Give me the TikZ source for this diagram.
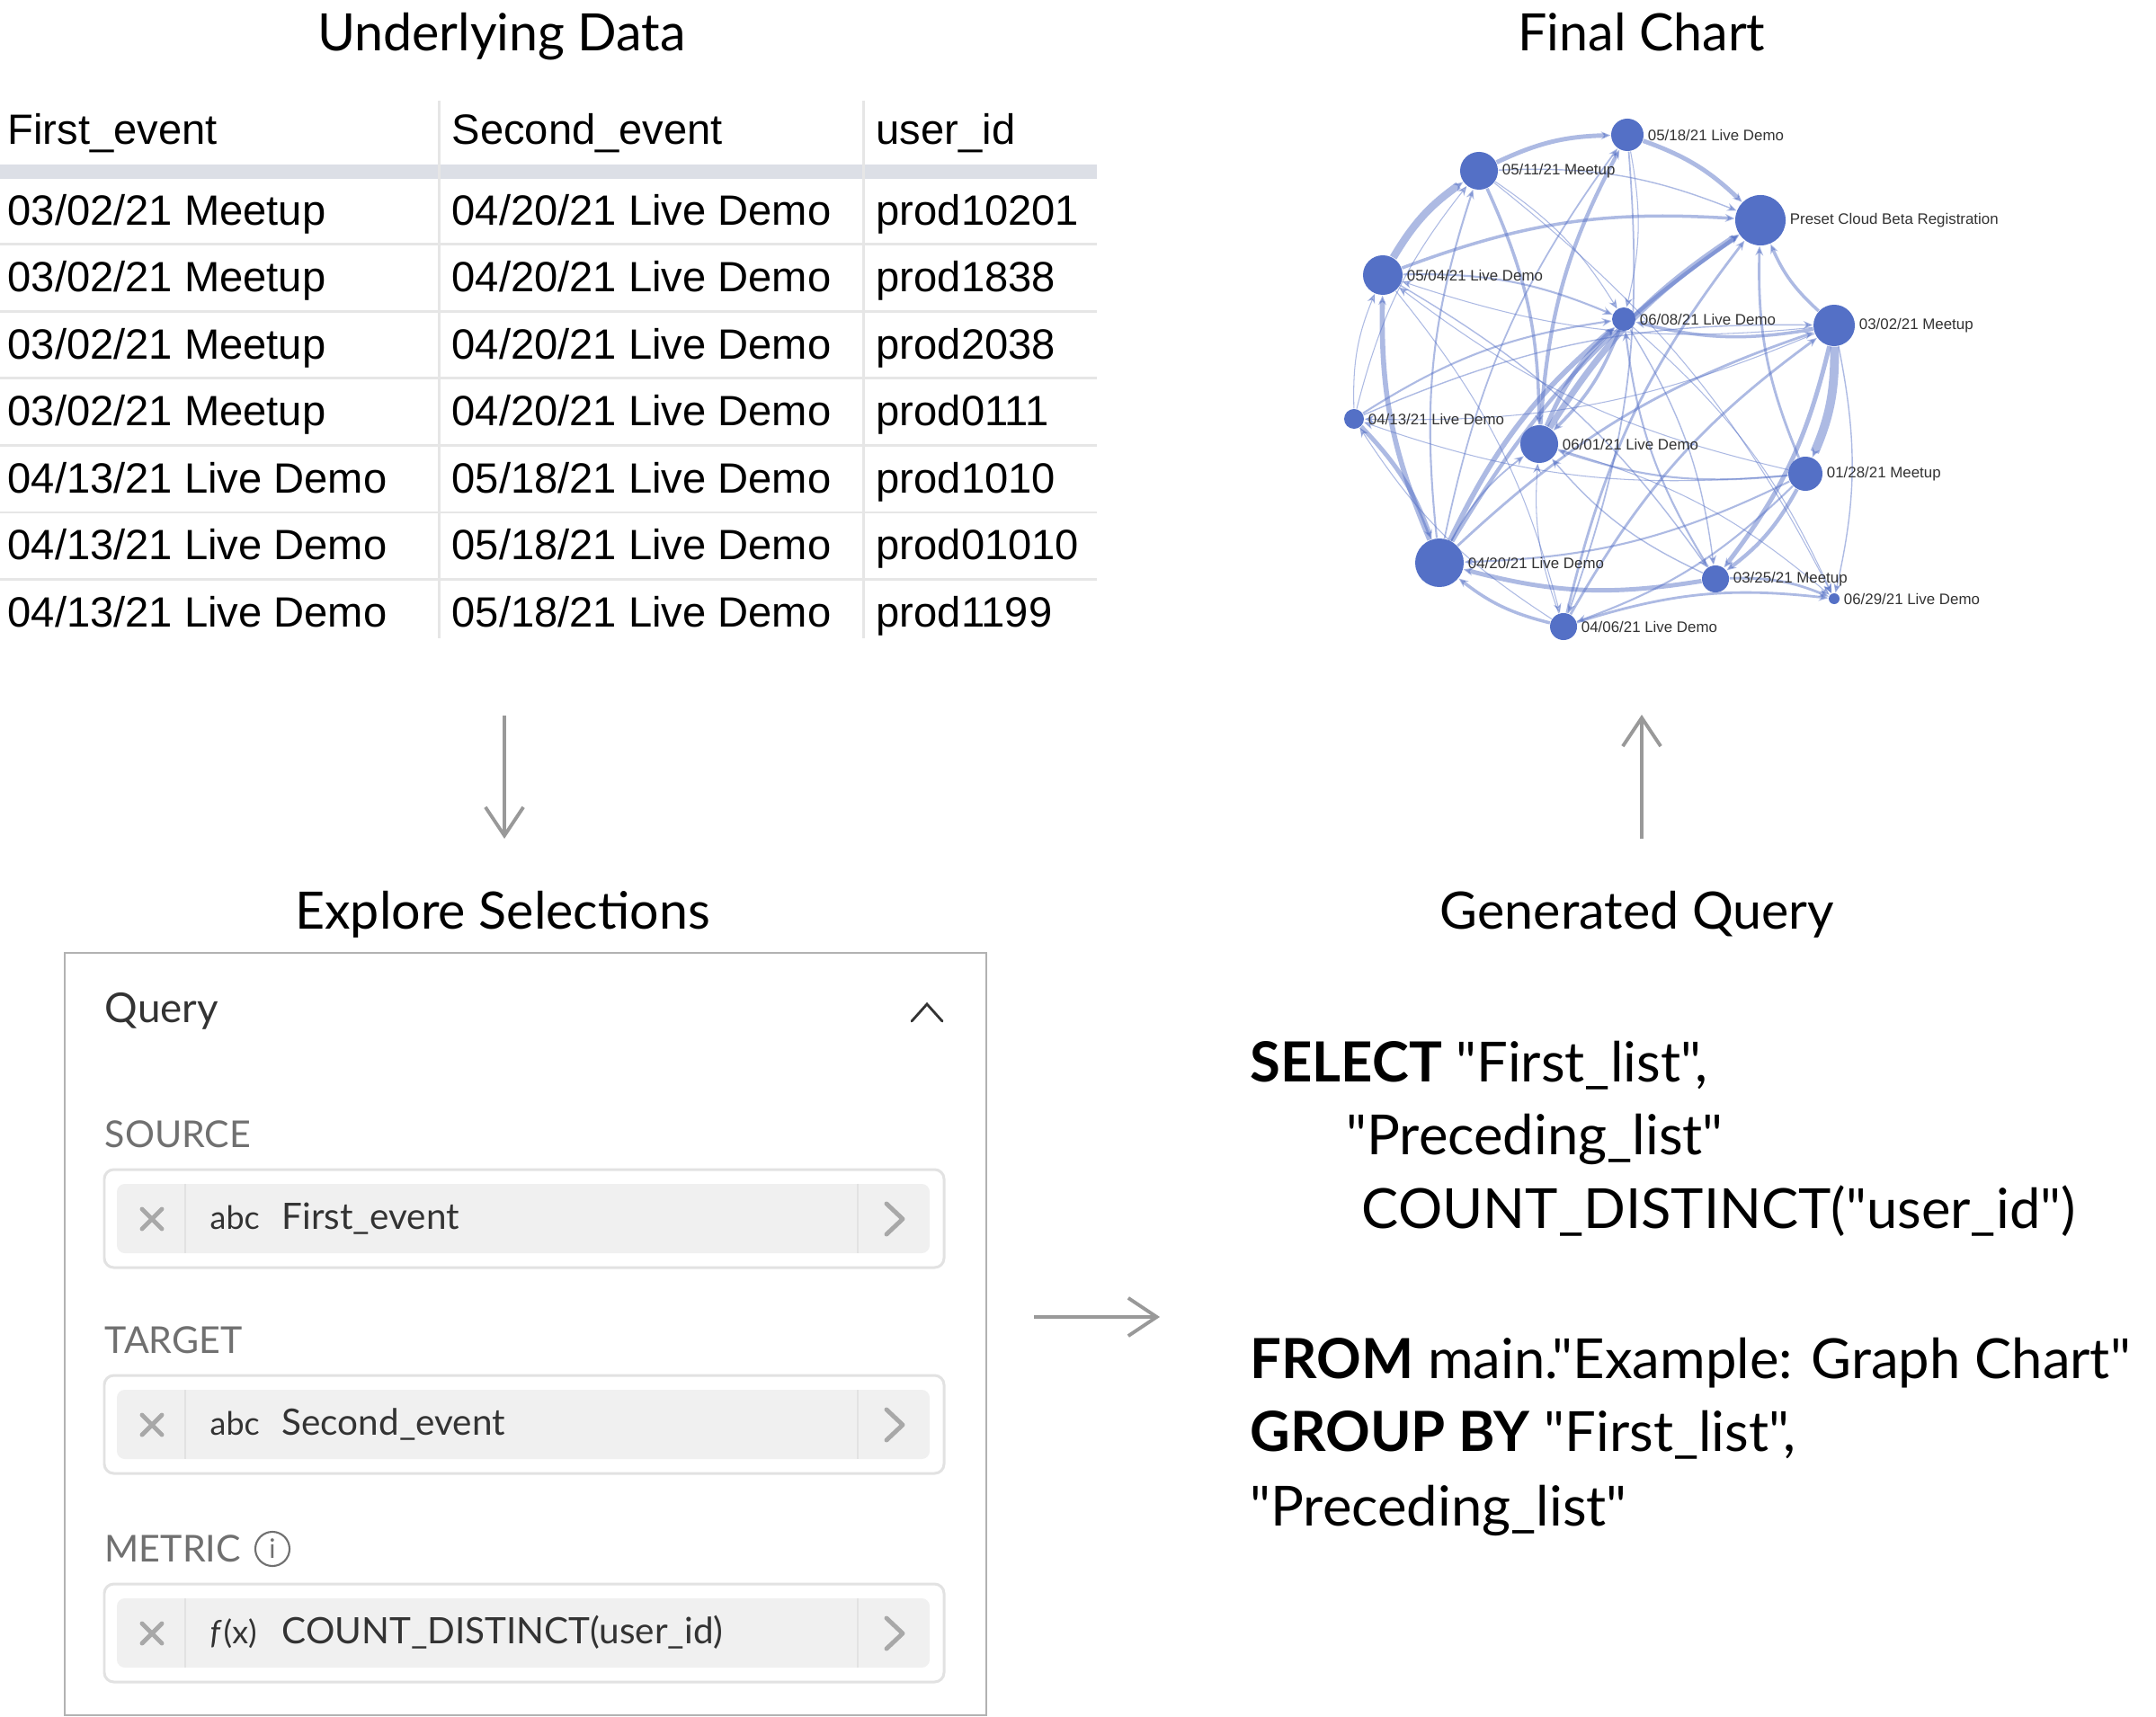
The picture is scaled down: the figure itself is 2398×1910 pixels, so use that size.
\documentclass[tikz,border=0pt]{standalone}
\usepackage{fontspec}
\setmainfont{Lato}[Ligatures=TeXOff]
\newfontfamily\arialfont{Liberation Sans}
\usetikzlibrary{arrows.meta}
\usetikzlibrary{backgrounds}

\definecolor{nodeblue}{HTML}{5470C6}
\definecolor{flowgray}{HTML}{999999}
\definecolor{bandgray}{HTML}{DCDFE6}
\definecolor{rulegray}{HTML}{E6E6E6}
\definecolor{fieldfill}{HTML}{F0F0F0}
\definecolor{fieldline}{HTML}{E2E2E2}
\definecolor{labelgray}{HTML}{707070}
\definecolor{icongray}{HTML}{A8A8A8}
\definecolor{darktext}{HTML}{333333}

\begin{document}
\begin{tikzpicture}[x=0.01cm, y=-0.01cm,
  heading/.style={font=\fontsize{16.3}{19}\selectfont, anchor=base, inner sep=0pt},
  cell/.style={font=\arialfont\fontsize{13.4}{16}\selectfont, anchor=west, inner sep=0pt, text height=1.5ex, text depth=.25ex},
  flow/.style={flowgray, line width=1.1pt, -{Straight Barb[length=9pt,width=12pt]}},
  gnode/.style={circle, fill=nodeblue, inner sep=0pt, minimum size=#1},
  glabel/.style={font=\arialfont\fontsize{4.8}{5}\selectfont, text=darktext, inner sep=1pt},
  link/.style={nodeblue, opacity=.48, line width=#1pt, bend left=12, -{Stealth[length=3pt,width=2.5pt]}},
  sqlline/.style={font=\fontsize{17.5}{21}\selectfont, anchor=base west, inner sep=0pt},
  seclabel/.style={font=\fontsize{11.7}{14}\selectfont, text=labelgray, anchor=base west, inner sep=0pt},
  fieldtext/.style={font=\fontsize{11.5}{14}\selectfont, text=darktext, anchor=west, inner sep=0pt, text height=1.5ex, text depth=.25ex},
  icon/.style={icongray, line width=1.4pt, line cap=round, line join=round}]

\useasboundingbox (0,0) rectangle (2398,1910);
\begin{scope}[on background layer]
  \fill[white] (0,0) rectangle (2398,1910);
\end{scope}

% headings
\node[heading] (hdata)  at (558,57)   {Underlying Data};
\node[heading] (hchart) at (1826,57)  {Final Chart};
\node[heading] (hexpl)  at (559,1033) {Explore Selections};
\node[heading] (hquery) at (1821,1033) {Generated Query};

% table
\fill[bandgray] (0,183) rectangle (1220,199);
\foreach \y in {272,346.5,421,495.5,570,644.5}
  \draw[rulegray, line width=0.85pt] (0,\y) -- (1220,\y);
\draw[rulegray, line width=0.85pt] (488,112) -- (488,710) (960,112) -- (960,710);

\node[cell] (h1) at (8,149)   {First\_event};
\node[cell] (h2) at (502,149) {Second\_event};
\node[cell] (h3) at (974,149) {user\_id};

\node[cell] (a1) at (8,239)   {03/02/21 Meetup};
\node[cell] (b1) at (502,239) {04/20/21 Live Demo};
\node[cell] (c1) at (974,239) {prod10201};
\node[cell] (a2) at (8,313.5)   {03/02/21 Meetup};
\node[cell] (b2) at (502,313.5) {04/20/21 Live Demo};
\node[cell] (c2) at (974,313.5) {prod1838};
\node[cell] (a3) at (8,388)   {03/02/21 Meetup};
\node[cell] (b3) at (502,388) {04/20/21 Live Demo};
\node[cell] (c3) at (974,388) {prod2038};
\node[cell] (a4) at (8,462.5)   {03/02/21 Meetup};
\node[cell] (b4) at (502,462.5) {04/20/21 Live Demo};
\node[cell] (c4) at (974,462.5) {prod0111};
\node[cell] (a5) at (8,537)   {04/13/21 Live Demo};
\node[cell] (b5) at (502,537) {05/18/21 Live Demo};
\node[cell] (c5) at (974,537) {prod1010};
\node[cell] (a6) at (8,611.5)   {04/13/21 Live Demo};
\node[cell] (b6) at (502,611.5) {05/18/21 Live Demo};
\node[cell] (c6) at (974,611.5) {prod01010};
\node[cell] (a7) at (8,686)   {04/13/21 Live Demo};
\node[cell] (b7) at (502,686) {05/18/21 Live Demo};
\node[cell] (c7) at (974,686) {prod1199};

% flow arrows
\coordinate (d1) at (561,796);
\coordinate (d2) at (561,933);
\coordinate (u1) at (1826,933);
\coordinate (u2) at (1826,795);
\coordinate (r1) at (1150,1465);
\coordinate (r2) at (1290,1465);
\draw[flow] (d1) -- (d2);
\draw[flow] (u1) -- (u2);
\draw[flow] (r1) -- (r2);

% graph chart
\node[gnode=0.36cm, label={[glabel]right:05/18/21 Live Demo}] (n0518) at (1810,150) {};
\node[gnode=0.42cm, label={[glabel]right:05/11/21 Meetup}] (n0511) at (1645,190) {};
\node[gnode=0.56cm, label={[glabel]right:Preset Cloud Beta Registration}] (preset) at (1958,245) {};
\node[gnode=0.44cm, label={[glabel]right:05/04/21 Live Demo}] (n0504) at (1538,306) {};
\node[gnode=0.26cm, label={[glabel]right:06/08/21 Live Demo}] (n0608) at (1806,355) {};
\node[gnode=0.46cm, label={[glabel]right:03/02/21 Meetup}] (n0302) at (2040,362) {};
\node[gnode=0.22cm, label={[glabel]right:04/13/21 Live Demo}] (n0413) at (1506,466) {};
\node[gnode=0.42cm, label={[glabel]right:06/01/21 Live Demo}] (n0601) at (1712,494) {};
\node[gnode=0.38cm, label={[glabel]right:01/28/21 Meetup}] (n0128) at (2008,527) {};
\node[gnode=0.54cm, label={[glabel]right:04/20/21 Live Demo}] (n0420) at (1601,626) {};
\node[gnode=0.30cm, label={[glabel]right:03/25/21 Meetup}] (n0325) at (1908,644) {};
\node[gnode=0.12cm, label={[glabel]right:06/29/21 Live Demo}] (n0629) at (2040,666) {};
\node[gnode=0.30cm, label={[glabel]right:04/06/21 Live Demo}] (n0406) at (1739,697) {};

\begin{scope}[on background layer]
\foreach \s/\t/\w in {n0504/n0511/2.4, n0511/n0518/1.4, n0518/preset/1.4, n0420/n0608/1.6,
    n0601/n0608/1.4, n0608/n0601/1.0, n0601/preset/2.0, n0420/preset/1.2, n0302/n0128/2.8,
    n0302/n0325/1.4, n0128/n0325/1.2, n0420/n0504/1.6, n0413/n0420/1.4, n0325/n0420/1.4,
    n0406/n0420/1.0, n0504/preset/1.0, n0511/n0601/1.0, n0601/n0518/1.2, n0302/n0608/1.0,
    n0302/preset/1.0, n0128/preset/0.8, n0406/n0302/0.8, n0406/n0629/0.8, n0325/n0629/0.8,
    n0420/n0302/0.8, n0128/n0420/0.6, n0325/n0608/0.6, n0406/preset/0.8, n0420/n0511/0.6,
    n0413/n0608/0.6, n0413/n0302/0.4, n0128/n0601/0.6, n0325/n0601/0.4, n0504/n0608/0.6,
    n0504/n0325/0.4, n0504/n0406/0.3, n0511/n0629/0.3, n0511/n0608/0.3, n0511/preset/0.4,
    n0518/n0608/0.3, n0518/n0406/0.5, n0302/n0629/0.4, n0302/n0504/0.3, n0302/n0413/0.3,
    n0128/n0504/0.3, n0128/n0413/0.3, n0406/n0413/0.3, n0413/n0504/0.3, n0420/n0601/0.5,
    n0406/n0601/0.3, n0608/n0629/0.3, n0128/n0406/0.6, n0413/n0511/0.3, n0420/n0518/0.5,
    n0608/n0325/0.4, n0601/n0629/0.3}
  \draw[link=\w] (\s) to (\t);
\end{scope}

% query panel
\draw[gray!60, line width=0.6pt] (72,1060) rectangle (1097,1908);
\node[anchor=base west, inner sep=0pt, font=\fontsize{13}{16}\selectfont, text=darktext] (qtitle) at (116,1137) {Query};
\draw[darktext, line width=0.8pt, line cap=round] (1014,1136) -- (1031,1117) -- (1048,1136);

\foreach \y/\sec/\kind/\txt/\nm in {1301/SOURCE/abc/First\_event/src,
    1530/TARGET/abc/Second\_event/tgt,
    1762/METRIC/{\textit{f}\kern.5pt(x)}/COUNT\_DISTINCT(user\_id)/met} {
  \node[seclabel] (\nm-lbl) at (116,\y-25) {\sec};
  \draw[fieldline, line width=0.85pt, rounded corners=3pt] (116,\y) rectangle (1050,\y+109);
  \fill[fieldfill, rounded corners=2.5pt] (130,\y+16) rectangle (1034,\y+93);
  \draw[fieldline, line width=0.4pt] (206,\y+16) -- (206,\y+93) (954,\y+16) -- (954,\y+93);
  \draw[icon] (158,\y+44) -- (180,\y+66) (158,\y+66) -- (180,\y+44);
  \draw[icon] (986,\y+38) -- (1004,\y+55) -- (986,\y+72);
  \node[fieldtext, font=\fontsize{10.2}{12}\selectfont] (\nm-kind) at (233,\y+55) {\kind};
  \node[fieldtext] (\nm-txt) at (313,\y+55) {\txt};
}
\node[circle, draw=labelgray, line width=0.6pt, minimum size=0.38cm, inner sep=0pt,
  text=labelgray, font=\fontsize{8.5}{9}\selectfont] (info) at (303,1723) {i};

% generated query
\node[sqlline] (q1) at (1390,1203) {\textbf{SELECT} "First\_list",};
\node[sqlline] (q2) at (1497,1284) {"Preceding\_list"};
\node[sqlline] (q3) at (1514,1366) {COUNT\_DISTINCT("user\_id")};
\node[sqlline] (q4) at (1390,1533) {\textbf{FROM} main."Example: Graph Chart"};
\node[sqlline] (q5) at (1390,1614) {\textbf{GROUP BY} "First\_list",};
\node[sqlline] (q6) at (1390,1697) {"Preceding\_list"};

\end{tikzpicture}
\end{document}
